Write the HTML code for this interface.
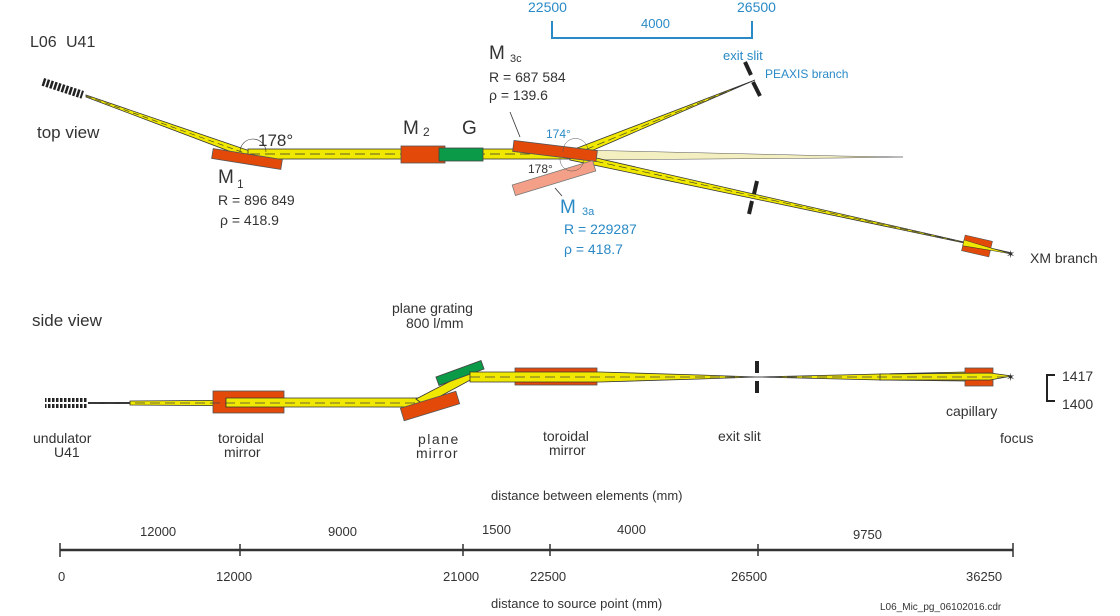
<!DOCTYPE html>
<html><head><meta charset="utf-8"><style>
html,body{margin:0;padding:0;background:#fff;}
svg{display:block;}
text{font-family:"Liberation Sans",sans-serif;fill:#333;}
.b{fill:#2a8ac6;}
</style></head><body>
<svg width="1120" height="616" viewBox="0 0 1120 616" xmlns="http://www.w3.org/2000/svg">
<defs>
<pattern id="h" width="4" height="20" patternUnits="userSpaceOnUse"><rect width="2.5" height="20" fill="#222"/></pattern>
</defs>
<text x="528" y="12" font-size="14" class="b">22500</text>
<text x="737" y="12" font-size="14" class="b">26500</text>
<text x="641" y="28" font-size="13" class="b">4000</text>
<path d="M552 21 V38 H752 V21" fill="none" stroke="#2a8ac6" stroke-width="2"/>

<text x="30" y="47" font-size="16">L06</text><text x="66" y="47" font-size="16">U41</text>
<text x="37" y="138" font-size="17">top view</text>

<g transform="translate(44,78) rotate(18)"><rect x="0" y="0" width="42" height="8" fill="url(#h)"/></g>
<polygon points="86,95 250,151 250,159 86,97" fill="#f0e800" stroke="#333" stroke-width="0.8"/>
<line x1="86" y1="96" x2="250" y2="155" stroke="#333" stroke-width="0.6" stroke-dasharray="6,4"/>
<rect x="248" y="149" width="330" height="10" fill="#f0e800" stroke="#333" stroke-width="0.8"/>
<line x1="250" y1="154" x2="578" y2="154" stroke="#333" stroke-width="0.8" stroke-dasharray="10,5"/>
<polygon points="578,150 840,156 903,157 840,158 578,160" fill="#f3efc0" stroke="#555" stroke-width="0.5"/>
<polygon points="572,150 755,80 575,158" fill="#f0e800" stroke="#333" stroke-width="0.8"/>
<line x1="575" y1="154" x2="755" y2="80" stroke="#333" stroke-width="0.6" stroke-dasharray="8,4"/>
<polygon points="570,152 1012,253 570,160" fill="#f0e800" stroke="#333" stroke-width="0.8"/>
<line x1="572" y1="156" x2="1012" y2="253" stroke="#333" stroke-width="0.6" stroke-dasharray="8,4"/>
<line x1="745" y1="62" x2="751" y2="75" stroke="#222" stroke-width="4"/>
<line x1="753" y1="82" x2="760" y2="96" stroke="#222" stroke-width="4"/>
<line x1="757" y1="181" x2="754" y2="194" stroke="#222" stroke-width="4"/>
<line x1="752" y1="201" x2="749" y2="214" stroke="#222" stroke-width="4"/>
<g transform="translate(977,246) rotate(13)"><rect x="-14" y="-8" width="28" height="16" fill="#e34a0a" stroke="#555" stroke-width="0.6"/><polygon points="-14,-3 16,-1 36,0 16,1 -14,3" fill="#f0e800" stroke="#333" stroke-width="0.5"/></g>
<text x="1006" y="258" font-size="11" fill="#a03060">✶</text>
<text x="1030" y="263" font-size="14">XM branch</text>
<g transform="translate(247,159) rotate(9)"><rect x="-35" y="-5" width="70" height="10" fill="#e34a0a" stroke="#555" stroke-width="0.8"/></g>
<path d="M240 152 A13 13 0 0 1 266 152" fill="none" stroke="#333" stroke-width="0.6"/>
<text x="258" y="146" font-size="17">178°</text>
<text x="218" y="183" font-size="19">M</text><text x="237" y="188" font-size="12">1</text>
<text x="218" y="205" font-size="14">R = 896 849</text>
<text x="220" y="225" font-size="14">ρ = 418.9</text>
<rect x="401" y="146" width="44" height="17" fill="#e34a0a" stroke="#555" stroke-width="0.8"/>
<rect x="439" y="148" width="44" height="13" fill="#0a9a48" stroke="#444" stroke-width="0.8"/>
<text x="403" y="134" font-size="19">M</text><text x="423" y="136" font-size="12">2</text>
<text x="462" y="134" font-size="19">G</text>
<g transform="translate(555,151) rotate(7)"><rect x="-42" y="-5.5" width="84" height="11" fill="#e34a0a" stroke="#555" stroke-width="0.8"/></g>
<g transform="translate(554,178) rotate(-17)"><rect x="-42" y="-5.5" width="84" height="11" fill="#f4a088" stroke="#777" stroke-width="0.8"/></g>
<line x1="510" y1="112" x2="520" y2="137" stroke="#333" stroke-width="0.8"/>
<line x1="562" y1="196" x2="555" y2="188" stroke="#333" stroke-width="0.8"/>
<path d="M563 152 A12 12 0 0 1 588 150" fill="none" stroke="#555" stroke-width="0.5"/>
<path d="M560 158 A12 12 0 0 0 584 160" fill="none" stroke="#555" stroke-width="0.5"/>
<text x="546" y="138" font-size="12" class="b">174°</text>
<text x="528" y="173" font-size="12">178°</text>
<text x="489" y="59" font-size="19">M</text><text x="510" y="62" font-size="11">3c</text>
<text x="489" y="82" font-size="14">R = 687 584</text>
<text x="489" y="100" font-size="14">ρ = 139.6</text>
<text x="560" y="213" font-size="19" class="b">M</text><text x="582" y="215" font-size="11" class="b">3a</text>
<text x="564" y="234" font-size="14" class="b">R = 229287</text>
<text x="564" y="254" font-size="14" class="b">ρ = 418.7</text>
<text x="723" y="60" font-size="13" class="b">exit slit</text>
<text x="765" y="78" font-size="12" class="b">PEAXIS branch</text>

<text x="32" y="326" font-size="17">side view</text>
<rect x="45" y="398" width="43" height="4" fill="url(#h)"/>
<rect x="45" y="404" width="43" height="4" fill="url(#h)"/>
<line x1="88" y1="403" x2="130" y2="403" stroke="#333" stroke-width="2"/>
<polygon points="130,401 420,399 420,407 130,405" fill="#f0e800" stroke="#333" stroke-width="0.8"/>
<rect x="213" y="391" width="71" height="22" fill="#e34a0a" stroke="#555" stroke-width="0.8"/>
<polygon points="226,398 420,398 420,407 226,407" fill="#f0e800" stroke="#333" stroke-width="0.8"/>
<line x1="90" y1="403" x2="420" y2="403" stroke="#444" stroke-width="0.8" stroke-dasharray="10,5"/>
<polygon points="416,399 468,372 474,378 424,405" fill="#f0e800" stroke="#333" stroke-width="0.8"/>
<g transform="translate(430,406) rotate(-17)"><rect x="-29" y="-6.5" width="58" height="13" fill="#e34a0a" stroke="#555" stroke-width="0.8"/></g>
<g transform="translate(460,373) rotate(-20)"><rect x="-24" y="-4.5" width="48" height="9" fill="#0a9a48" stroke="#444" stroke-width="0.8"/></g>
<rect x="515" y="368" width="82" height="17" fill="#e34a0a" stroke="#555" stroke-width="0.8"/>
<polygon points="470,372 600,372 700,375 757,377 700,379 600,382 470,382" fill="#f0e800" stroke="#333" stroke-width="0.8"/>
<line x1="470" y1="377" x2="757" y2="377" stroke="#444" stroke-width="0.8" stroke-dasharray="10,5"/>
<polygon points="757,377 880,374 965,372 1012,376 965,381 880,380" fill="#f0e800" stroke="#333" stroke-width="0.8"/>
<rect x="965" y="368" width="28" height="18" fill="#e34a0a" stroke="#555" stroke-width="0.8"/>
<polygon points="880,374 990,373 1012,376 990,380 880,380" fill="#f0e800" stroke="#333" stroke-width="0.8"/>
<line x1="757" y1="377" x2="1010" y2="377" stroke="#444" stroke-width="0.8" stroke-dasharray="10,5"/>
<line x1="757" y1="361" x2="757" y2="373" stroke="#222" stroke-width="4"/>
<line x1="757" y1="381" x2="757" y2="393" stroke="#222" stroke-width="4"/>
<text x="1006" y="381" font-size="11" fill="#a03060">✶</text>
<path d="M1055 375 H1047 V401 H1055" fill="none" stroke="#222" stroke-width="2"/>
<text x="1062" y="381" font-size="14">1417</text>
<text x="1062" y="409" font-size="14">1400</text>

<text x="392" y="313" font-size="14">plane grating</text>
<text x="406" y="328" font-size="14">800 l/mm</text>
<text x="33" y="443" font-size="14">undulator</text>
<text x="54" y="457" font-size="14">U41</text>
<text x="218" y="443" font-size="14">toroidal</text>
<text x="224" y="457" font-size="14">mirror</text>
<text x="418" y="444" font-size="14" letter-spacing="1.5">plane</text>
<text x="416" y="458" font-size="14" letter-spacing="1">mirror</text>
<text x="543" y="441" font-size="14">toroidal</text>
<text x="549" y="455" font-size="14">mirror</text>
<text x="718" y="441" font-size="14">exit slit</text>
<text x="946" y="416" font-size="14">capillary</text>
<text x="1000" y="443" font-size="14">focus</text>

<text x="491" y="500" font-size="13">distance between elements (mm)</text>
<line x1="60" y1="550" x2="1013" y2="550" stroke="#333" stroke-width="2.5"/>
<g stroke="#333" stroke-width="1.5">
<line x1="60" y1="543" x2="60" y2="557"/><line x1="240" y1="544" x2="240" y2="556"/>
<line x1="463" y1="544" x2="463" y2="556"/><line x1="550" y1="544" x2="550" y2="556"/>
<line x1="758" y1="544" x2="758" y2="556"/><line x1="1013" y1="543" x2="1013" y2="557"/>
</g>
<g font-size="13">
<text x="140" y="536">12000</text><text x="328" y="536">9000</text><text x="482" y="534">1500</text>
<text x="617" y="534">4000</text><text x="853" y="539">9750</text>
<text x="58" y="581">0</text><text x="216" y="581">12000</text><text x="443" y="581">21000</text>
<text x="530" y="581">22500</text><text x="731" y="581">26500</text><text x="966" y="581">36250</text>
</g>
<text x="491" y="608" font-size="13">distance to source point  (mm)</text>
<text x="880" y="610" font-size="10" fill="#555">L06_Mic_pg_06102016.cdr</text>
</svg>
</body></html>
